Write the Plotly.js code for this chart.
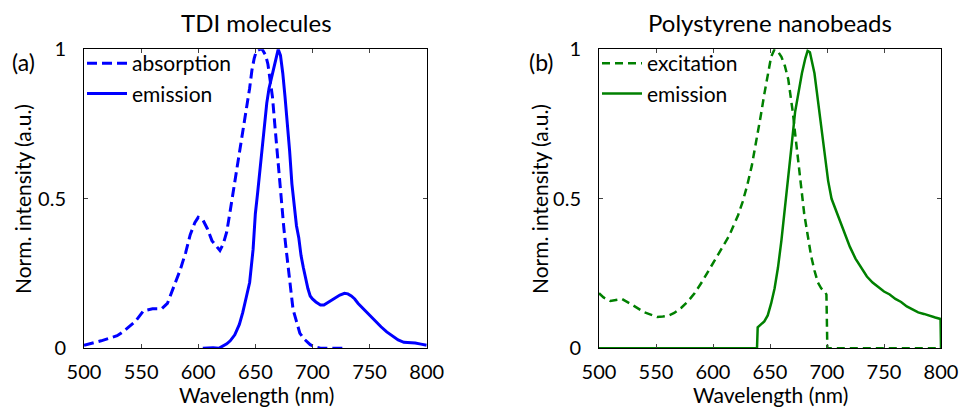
<!DOCTYPE html>
<html><head><meta charset="utf-8">
<script src="https://cdn.plot.ly/plotly-3.0.1.min.js"></script>
<style>html,body{margin:0;padding:0;background:#fff}#chart{width:959px;height:408px}</style>
</head><body><div id="chart"></div>
<script>
// TDI molecules
const tdiAbsX = [500,515,529,534,545,552,560,568,573,578,584,589,593,597,600,604,608,612,616,619,622,625,628,631,634,637,640,642,645,647,649,651,654,656,659,661,663,665,667,669,671,673,675,677,679,681,683,686,689,693,698,703,707,715,725,730];
const tdiAbsY = [0.01,0.025,0.042,0.055,0.09,0.125,0.132,0.132,0.15,0.2,0.26,0.32,0.38,0.42,0.438,0.43,0.40,0.36,0.34,0.327,0.35,0.39,0.46,0.53,0.6,0.68,0.75,0.8,0.87,0.93,0.97,0.995,1.0,1.0,0.98,0.95,0.9,0.84,0.75,0.66,0.56,0.48,0.40,0.33,0.26,0.19,0.13,0.09,0.05,0.03,0.012,0.004,0.0,0.0,0.0,0.0];
const tdiEmX = [604,608,613,618,622,625,628,632,636,639,642,645,648,650,652,654,656,658,660,662,664,666,668,670,672,674,676,678,680,682,684,686,688,690,692,694,696,698,700,703,707,710,713,716,720,724,728,731,734,737,740,745,750,755,760,765,770,775,780,790,795,800];
const tdiEmY = [0.0,0.002,0.002,0.0,0.008,0.015,0.025,0.045,0.08,0.12,0.17,0.22,0.33,0.45,0.52,0.6,0.68,0.76,0.82,0.87,0.9,0.94,0.97,1.0,0.98,0.92,0.84,0.76,0.66,0.55,0.47,0.41,0.37,0.31,0.27,0.23,0.2,0.175,0.165,0.155,0.145,0.145,0.152,0.16,0.168,0.178,0.184,0.182,0.175,0.165,0.15,0.13,0.11,0.09,0.072,0.055,0.04,0.028,0.02,0.018,0.014,0.01];
// Polystyrene nanobeads
const psExcX = [500,504,510,515,520,528,535,540,546,551,556,560,566,572,578,584,590,596,602,608,614,618,622,626,630,634,638,642,645,648,651,654,657,660,663,666,668,670,672,674,676,678,680,683,686,689,692,695,698,699.5,700.3,710,750,800];
const psExcY = [0.184,0.17,0.158,0.162,0.165,0.148,0.132,0.12,0.112,0.105,0.106,0.108,0.118,0.135,0.157,0.185,0.22,0.26,0.3,0.34,0.375,0.41,0.445,0.49,0.545,0.61,0.69,0.78,0.85,0.92,0.975,1.0,0.992,0.975,0.945,0.9,0.85,0.79,0.72,0.65,0.58,0.53,0.45,0.38,0.31,0.26,0.22,0.2,0.19,0.18,0.0,0.0,0.0,0.0];
const psEmX = [500,600,638.6,639.2,642,645,648,651,654,657,660,663,666,669,672,675,678,681,683,685,687,689,691,693,695,697,699,701,704,708,712,716,720,725,730,735,740,745,750,755,760,765,770,775,780,785,790,795,799.6,800];
const psEmY = [0.0,0.0,0.0,0.07,0.08,0.09,0.11,0.15,0.2,0.27,0.36,0.46,0.58,0.68,0.79,0.86,0.92,0.97,0.995,0.99,0.96,0.92,0.86,0.8,0.74,0.68,0.62,0.56,0.5,0.46,0.42,0.38,0.34,0.3,0.27,0.24,0.22,0.205,0.19,0.18,0.165,0.155,0.14,0.13,0.12,0.115,0.108,0.103,0.098,0.0];

const xTicks = [500,550,600,650,700,750,800];
const yTicks = [0,0.5,1];
const yTickText = ['0','0.5','1'];

const BLUE = '#0000ff', GREEN = '#008000';
const FONT = 'Lato, "Open Sans", sans-serif';

const traces = [
  {x: tdiAbsX, y: tdiAbsY, name: 'absorption', mode: 'lines', line: {color: BLUE, width: 3, dash: '10px,5px'}, xaxis: 'x', yaxis: 'y', legend: 'legend'},
  {x: tdiEmX, y: tdiEmY, name: 'emission', mode: 'lines', line: {color: BLUE, width: 3}, xaxis: 'x', yaxis: 'y', legend: 'legend'},
  {x: psExcX, y: psExcY, name: 'excitation', mode: 'lines', line: {color: GREEN, width: 2.5, dash: '8px,5px'}, xaxis: 'x2', yaxis: 'y2', legend: 'legend2'},
  {x: psEmX, y: psEmY, name: 'emission', mode: 'lines', line: {color: GREEN, width: 2.5}, xaxis: 'x2', yaxis: 'y2', legend: 'legend2'}
];

const W = 959, H = 408;
const xd1 = [84/W, 426.7/W], xd2 = [599/W, 941/W];
const yd = [1 - 348.3/H, 1 - 49.3/H];

function xax(domain, anchor) {
  return {domain: domain, anchor: anchor, range: [500, 800], tickvals: xTicks, ticks: 'inside', ticklen: 4,
    showline: true, mirror: 'allticks', linecolor: '#000', linewidth: 1, showgrid: false, zeroline: false,
    tickfont: {family: FONT, size: 20, color: '#000'}, ticklabelstandoff: 6, fixedrange: true};
}
function yax(anchor) {
  return {domain: yd, anchor: anchor, range: [0, 1], tickvals: yTicks, ticktext: yTickText, ticks: 'inside', ticklen: 4,
    showline: true, mirror: 'allticks', linecolor: '#000', linewidth: 1, showgrid: false, zeroline: false,
    tickfont: {family: FONT, size: 20, color: '#000'}, ticklabelstandoff: 13, fixedrange: true};
}

const legendBase = {bgcolor: 'rgba(0,0,0,0)', borderwidth: 0, font: {family: FONT, size: 21, color: '#000'},
  xanchor: 'left', yanchor: 'top', y: 1 - 43/H, tracegroupgap: 0, itemwidth: 40};

const ann = (text, x, y, size, extra) => Object.assign({text: text, x: x / W, y: 1 - y / H, xref: 'paper', yref: 'paper',
  showarrow: false, font: {family: FONT, size: size, color: '#000'}, xanchor: 'center', yanchor: 'middle'}, extra || {});

const layout = {
  width: W, height: H, margin: {l: 0, r: 0, t: 0, b: 0},
  paper_bgcolor: '#fff', plot_bgcolor: '#fff', showlegend: true,
  font: {family: FONT, size: 20, color: '#000'},
  xaxis: xax(xd1, 'y'), yaxis: yax('x'),
  xaxis2: xax(xd2, 'y2'), yaxis2: yax('x2'),
  legend: Object.assign({}, legendBase, {x: 82/W}),
  legend2: Object.assign({}, legendBase, {x: 597/W}),
  annotations: [
    ann('TDI molecules', 256, 22, 24),
    ann('Polystyrene nanobeads', 770, 22, 24),
    ann('(a)', 23, 62, 23),
    ann('(b)', 541, 62, 23),
    ann('Wavelength (nm)', 256, 394, 21),
    ann('Wavelength (nm)', 770, 394, 21),
    ann('Norm. intensity (a.u.)', 22, 199, 21, {textangle: -90}),
    ann('Norm. intensity (a.u.)', 539, 199, 21, {textangle: -90})
  ]
};

Plotly.newPlot('chart', traces, layout, {staticPlot: true, displayModeBar: false});
</script>
</body></html>
